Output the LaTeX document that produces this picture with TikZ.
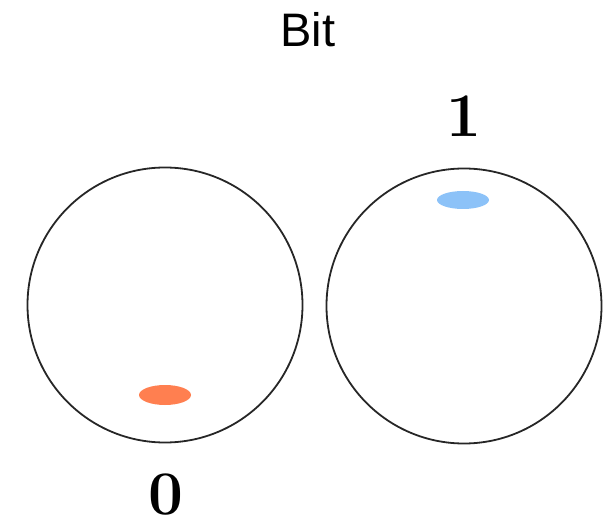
\documentclass[tikz,border=0pt]{standalone}
\usepackage{fontspec}
\newfontfamily\titlefont{Liberation Sans}
\definecolor{dotorange}{RGB}{255,127,80}
\definecolor{dotblue}{RGB}{140,194,248}
\begin{document}
\begin{tikzpicture}[x=1pt,y=1pt,
  ring/.style={circle,draw=black!85,line width=1.8pt,minimum size=275pt,inner sep=0pt},
  digit/.style={font=\fontsize{62}{62}\selectfont\bfseries,inner sep=0pt,anchor=base}]
\useasboundingbox (0,0) rectangle (611,523);
\node[font=\titlefont\fontsize{47}{47}\selectfont,inner sep=0pt,anchor=base] (title) at (308,476) {Bit};
\node[ring] (left) at (165,218) {};
\node[ring] (right) at (464,217) {};
\fill[dotorange] (165,128) ellipse (26pt and 10pt);
\fill[dotblue] (463,323) ellipse (26pt and 9pt);
\node[digit] (zero) at (165.5,9) {0};
\node[digit] (one) at (463.5,386) {1};
\end{tikzpicture}
\end{document}
